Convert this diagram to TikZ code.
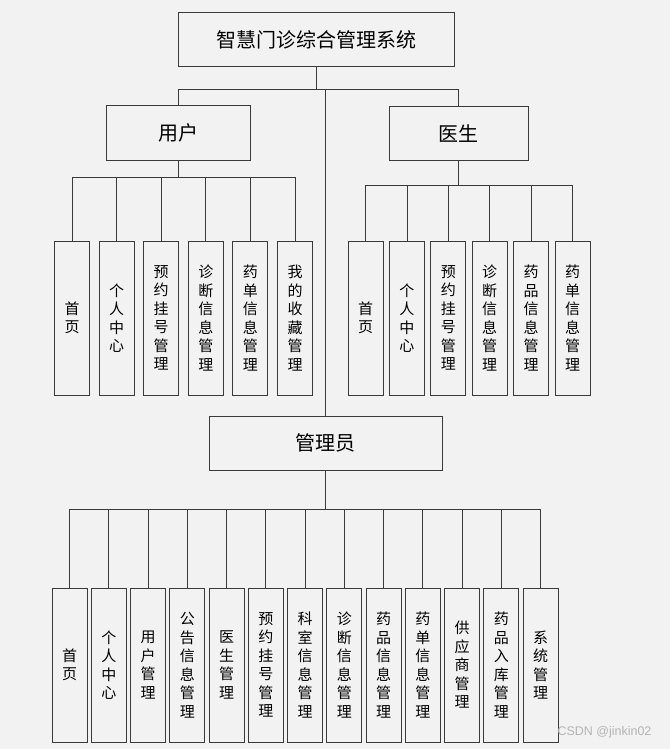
\documentclass[tikz,border=0pt]{standalone}
\usepackage{fontspec}
\newfontfamily\cjk{Noto Sans CJK SC}
\setsansfont{Liberation Sans}
\usetikzlibrary{positioning}
\definecolor{SysBg}{HTML}{F2F2F2}
\definecolor{SysLine}{HTML}{3A3A3A}
\definecolor{SysMark}{HTML}{B4B4B4}

\begin{document}
\begin{tikzpicture}[x=1pt, y=-1pt,
  level/.style={draw=SysLine, fill=SysBg, line width=1pt, inner sep=0pt,
    minimum height=54pt, font=\cjk\fontsize{20}{24}\selectfont},
  leaf/.style={draw=SysLine, fill=SysBg, line width=1pt, inner sep=0pt,
    minimum width=35pt, minimum height=154pt, align=center,
    font=\cjk\fontsize{15}{18.5}\selectfont},
  wire/.style={draw=SysLine, line width=0.8pt}]
  \fill[SysBg] (0,0) rectangle (670,749);
  % top levels
  \node[level, minimum width=276pt] (top) at (316,40) {智慧门诊综合管理系统};
  \node[level, minimum width=144pt] (user) at (178,133) {用户};
  \node[level, minimum width=139pt] (doc) at (458.5,133.5) {医生};
  \node[level, minimum width=233pt] (admin) at (325.5,443) {管理员};
  \coordinate (hub) at (316,89);
  \draw[wire] (top.south) -- (hub);
  \draw[wire] (user.north) |- (hub);
  \draw[wire] (doc.north) |- (hub);
  \draw[wire] (admin.north) -- (admin.north |- hub);
  % user modules
  \foreach \t [count=\i] in {首\\页, 个\\人\\中\\心, 预\\约\\挂\\号\\管\\理,
      诊\\断\\信\\息\\管\\理, 药\\单\\信\\息\\管\\理, 我\\的\\收\\藏\\管\\理}
    \node[leaf] (u\i) at ({72+(\i-1)*44.6},318) {\t};
  \coordinate (uhub) at (user.south |- 0,177);
  \draw[wire] (user.south) -- (uhub);
  \foreach \i in {1,...,6}
    \draw[wire] (u\i.north) |- (uhub);
  % doctor modules
  \foreach \t [count=\i] in {首\\页, 个\\人\\中\\心, 预\\约\\挂\\号\\管\\理,
      诊\\断\\信\\息\\管\\理, 药\\品\\信\\息\\管\\理, 药\\单\\信\\息\\管\\理}
    \node[leaf] (d\i) at ({365.5+(\i-1)*41.4},318) {\t};
  \coordinate (dhub) at (doc.south |- 0,185);
  \draw[wire] (doc.south) -- (dhub);
  \foreach \i in {1,...,6}
    \draw[wire] (d\i.north) |- (dhub);
  % admin modules
  \foreach \t [count=\i] in {首\\页, 个\\人\\中\\心, 用\\户\\管\\理, 公\\告\\信\\息\\管\\理,
      医\\生\\管\\理, 预\\约\\挂\\号\\管\\理, 科\\室\\信\\息\\管\\理, 诊\\断\\信\\息\\管\\理,
      药\\品\\信\\息\\管\\理, 药\\单\\信\\息\\管\\理, 供\\应\\商\\管\\理,
      药\\品\\入\\库\\管\\理, 系\\统\\管\\理}
    \node[leaf] (a\i) at ({69.5+(\i-1)*39.25},665) {\t};
  \coordinate (ahub) at (admin.south |- 0,509);
  \draw[wire] (admin.south) -- (ahub);
  \foreach \i in {1,...,13}
    \draw[wire] (a\i.north) |- (ahub);
  \node[anchor=east, text=SysMark, font=\sffamily\fontsize{12.5}{14}\selectfont]
    (mark) at (655,732) {CSDN @jinkin02};
\end{tikzpicture}
\end{document}
